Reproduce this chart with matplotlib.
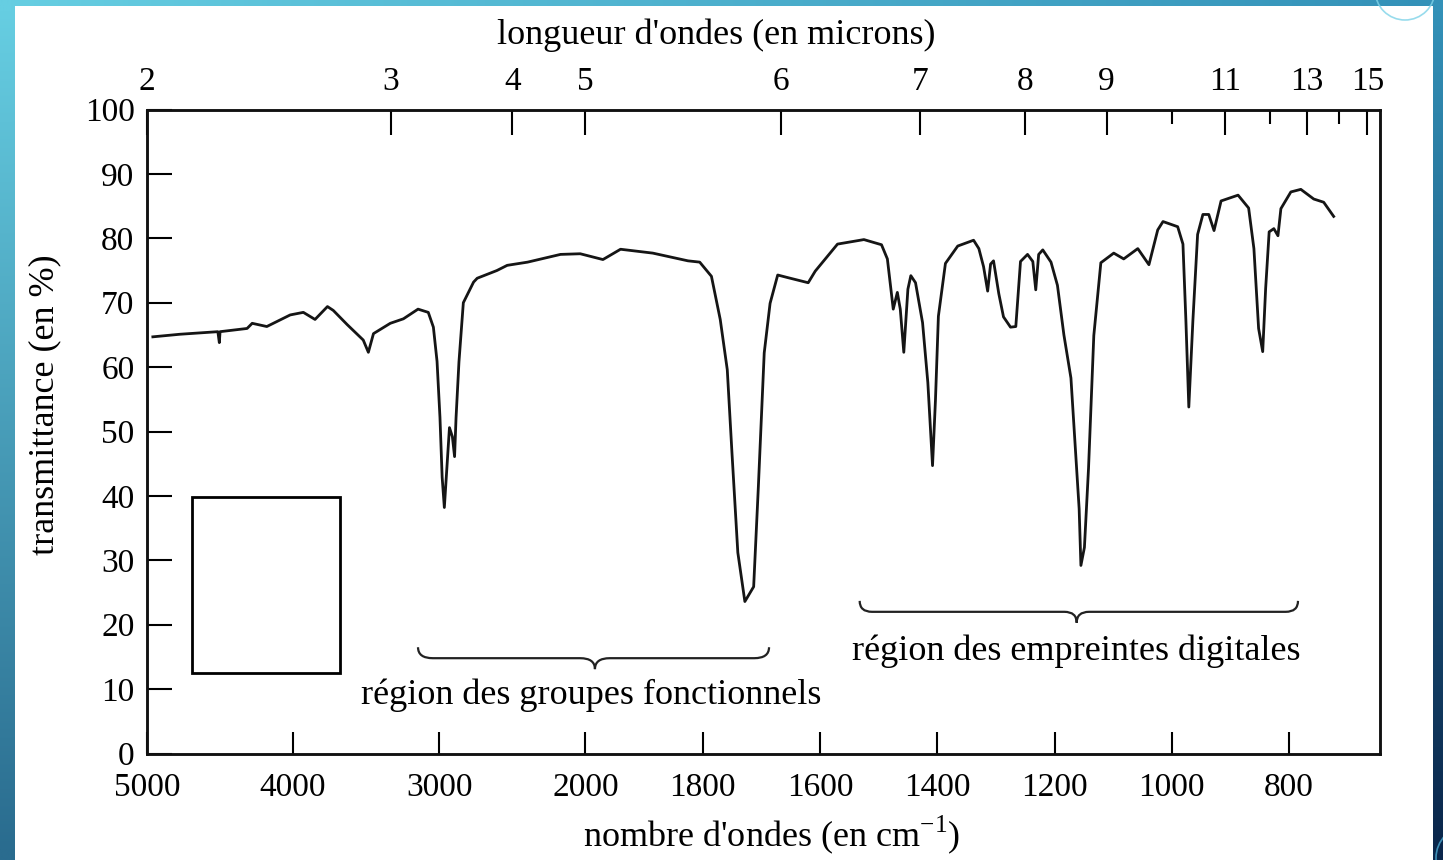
import numpy as np
import matplotlib
matplotlib.use('Agg')
import matplotlib.pyplot as plt
from matplotlib.patches import Rectangle, Circle, PathPatch
from matplotlib.path import Path
from matplotlib.colors import to_rgb

# ---- data ----
wavenumber = [4960, 4775, 4515, 4505, 4500, 4315, 4280, 4180, 4020, 3930,
              3850, 3765, 3725, 3630, 3520, 3485, 3450, 3335, 3245, 3145,
              3075, 3040, 3015, 2995, 2980, 2965, 2945, 2930, 2910, 2895,
              2885, 2865, 2835, 2765, 2740, 2605, 2535, 2395, 2170, 2035,
              1970, 1940, 1885, 1825, 1805, 1785, 1770, 1758, 1750, 1740,
              1728, 1713, 1705, 1695, 1685, 1672, 1655, 1620, 1608, 1570,
              1525, 1495, 1485, 1475, 1468, 1463, 1457, 1450, 1445, 1437,
              1425, 1416, 1408, 1403, 1398, 1386, 1365, 1338, 1329, 1321,
              1314, 1309, 1304, 1295, 1287, 1275, 1266, 1258, 1246, 1237,
              1232, 1227, 1220, 1206, 1195, 1184, 1172, 1164, 1158, 1155,
              1149, 1142, 1133, 1121, 1099, 1082, 1058, 1039, 1024, 1015,
              990, 981, 976, 971, 964, 956, 947, 937, 928, 916,
              887, 869, 860, 852, 845, 840, 834, 826, 819, 814,
              797, 780, 758, 741, 724]
transmittance = [64.7, 65.1, 65.5, 63.8, 65.5, 66.0, 66.8, 66.3, 68.1, 68.5,
                 67.4, 69.4, 68.8, 66.6, 64.2, 62.3, 65.2, 66.8, 67.5, 69.0,
                 68.5, 66.2, 60.9, 52.2, 42.9, 38.2, 45.3, 50.6, 49.2, 46.1,
                 52.1, 60.8, 70.0, 73.2, 73.8, 75.0, 75.8, 76.3, 77.5, 77.6,
                 76.7, 78.3, 77.7, 76.5, 76.3, 74.1, 67.4, 59.6, 46.7, 31.2,
                 23.6, 25.9, 41.4, 62.2, 69.9, 74.3, 73.9, 73.1, 74.9, 79.1,
                 79.8, 79.0, 76.8, 69.0, 71.6, 69.0, 62.3, 72.1, 74.2, 73.1,
                 66.9, 57.6, 44.7, 54.9, 67.9, 76.1, 78.8, 79.7, 78.4, 75.6,
                 71.8, 76.0, 76.5, 71.4, 67.8, 66.2, 66.3, 76.4, 77.5, 76.4,
                 72.0, 77.5, 78.2, 76.3, 72.7, 65.0, 58.3, 46.8, 38.0, 29.2,
                 32.0, 44.3, 64.9, 76.2, 77.7, 76.8, 78.4, 75.9, 81.3, 82.6,
                 81.8, 79.1, 67.3, 53.8, 67.3, 80.6, 83.7, 83.7, 81.2, 85.8,
                 86.7, 84.7, 78.4, 66.0, 62.4, 72.2, 81.0, 81.5, 80.4, 84.6,
                 87.2, 87.6, 86.1, 85.6, 83.4]

wn_ticks = [5000, 4000, 3000, 2000, 1800, 1600, 1400, 1200, 1000, 800]
um_major = [2, 3, 4, 5, 6, 7, 8, 9, 11, 13, 15]
um_minor = [10, 12, 14]
t_ticks = list(range(0, 101, 10))

SERIF = ['Liberation Serif', 'DejaVu Serif']
plt.rcParams['font.family'] = SERIF
TICK_FS = 24


# IR charts change scale at 2000 cm-1 (forward is increasing, the axis is inverted by xlim)
def fwd(w):
    w = np.asarray(w, float)
    return np.where(w >= 2000, (w - 5000) * 0.146, -438 - (2000 - w) * 0.586)


def inv(v):
    v = np.asarray(v, float)
    return np.where(v >= -438, 5000 + v / 0.146, 2000 + (v + 438) / 0.586)


def brace(ax, x0, x1, xm, y, h, r):
    """accolade horizontale (coordonnées axes), pointe vers le bas"""
    verts = [(x0, y + h), (x0, y), (x0 + r, y), (xm - r, y), (xm, y), (xm, y - h),
             (xm, y), (xm + r, y), (x1 - r, y), (x1, y), (x1, y + h)]
    codes = [Path.MOVETO, Path.CURVE3, Path.CURVE3, Path.LINETO, Path.CURVE3, Path.CURVE3,
             Path.CURVE3, Path.CURVE3, Path.LINETO, Path.CURVE3, Path.CURVE3]
    ax.add_patch(PathPatch(Path(verts, codes), fill=False, lw=1.6, color='#222',
                           transform=ax.transAxes, clip_on=False))


W, H = 1443, 860
fig = plt.figure(figsize=(W / 100, H / 100), dpi=100)

# fond de diapositive (dégradé bleu) + feuille blanche
bg = fig.add_axes([0, 0, 1, 1])
bg.set_axis_off()
tl, tr = np.array(to_rgb('#66cee2')), np.array(to_rgb('#3391b8'))
bl, br = np.array(to_rgb('#2a6c8f')), np.array(to_rgb('#0a264b'))
gx = np.linspace(0, 1, 64)[None, :, None]
gy = np.linspace(0, 1, 40)[:, None, None]
grad = (1 - gy) * ((1 - gx) * tl + gx * tr) + gy * ((1 - gx) * bl + gx * br)
bg.imshow(grad, extent=(0, W, H, 0), aspect='auto', interpolation='bilinear')
bg.add_patch(Rectangle((15, 6), 1433 - 15, H - 6, color='white', lw=0))
bg.add_patch(Circle((1405, -10), 30, fill=False, ec='#7fd3e8', lw=1.2, alpha=0.8))
bg.add_patch(Circle((1468, 858), 32, fill=False, ec='#4aa8d0', lw=1.2, alpha=0.8))
bg.set_xlim(0, W)
bg.set_ylim(H, 0)

ax = fig.add_axes([147 / W, 1 - 753.5 / H, 1233 / W, 644 / H])
ax.set_facecolor('none')
ax.set_xscale('function', functions=(fwd, inv))
ax.plot(wavenumber, transmittance, color='#151515', lw=2.0, solid_joinstyle='round')
ax.set_xlim(5000, 645)
ax.set_ylim(0, 100)
ax.set_xticks(wn_ticks)
ax.set_xticklabels([str(v) for v in wn_ticks])
ax.set_yticks(t_ticks)
ax.tick_params(axis='x', direction='in', length=16, width=1.5, pad=14, labelsize=TICK_FS)
ax.tick_params(axis='y', direction='in', length=18, width=1.5, pad=9, labelsize=TICK_FS)
for s in ax.spines.values():
    s.set_linewidth(1.8)
    s.set_color('#111')

# axe du haut : longueur d'onde (µm) = 1e4 / nombre d'ondes, même échelle
top = ax.twiny()
top.set_xscale('function', functions=(fwd, inv))
top.set_xlim(ax.get_xlim())
top.set_xticks([1e4 / m for m in um_major])
top.set_xticklabels([str(m) for m in um_major])
top.set_xticks([1e4 / m for m in um_minor], minor=True)
top.tick_params(which='major', direction='in', length=18, width=1.5, pad=9, labelsize=TICK_FS)
top.tick_params(which='minor', direction='in', length=10, width=1.5)
for s in top.spines.values():
    s.set_linewidth(1.8)
    s.set_color('#111')

# accolades et noms des régions
brace(ax, 0.2198, 0.5045, 0.3633, 0.148, 0.017, 0.012)
brace(ax, 0.578, 0.9335, 0.754, 0.220, 0.017, 0.010)
ax.text(0.360, 0.091, 'région des groupes fonctionnels', transform=ax.transAxes,
        ha='center', va='center', fontsize=26)
ax.text(0.754, 0.158, 'région des empreintes digitales', transform=ax.transAxes,
        ha='center', va='center', fontsize=26)

fig.text(716 / W, 1 - 35 / H, "longueur d'ondes (en microns)", ha='center', va='center', fontsize=26)
fig.text(772 / W, 1 - 835 / H, r"nombre d'ondes (en cm$^{\mathregular{-1}}$)",
         ha='center', va='center', fontsize=26)
fig.text(45 / W, 1 - 405 / H, 'transmittance (en %)', rotation=90,
         ha='center', va='center', fontsize=26)

# cadre blanc (cache) en bas à gauche
fig.add_artist(Rectangle((192 / W, 1 - 673 / H), 148 / W, 176 / H, transform=fig.transFigure,
                         facecolor='white', edgecolor='black', lw=2.0, zorder=5))

fig.savefig('out.png', dpi=100)
